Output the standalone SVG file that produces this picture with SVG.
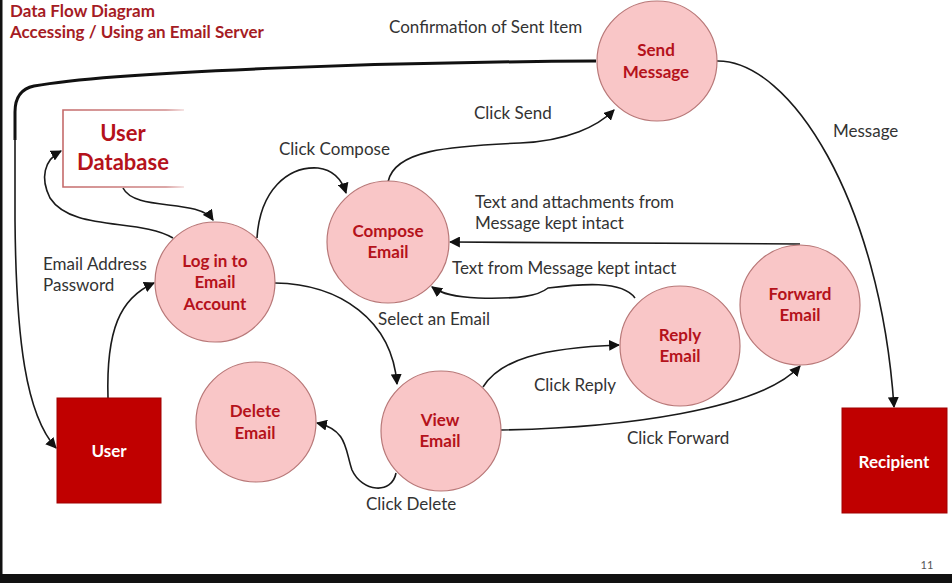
<svg xmlns="http://www.w3.org/2000/svg" width="952" height="583" viewBox="0 0 952 583">
  <defs>
    <marker id="arrow" viewBox="0 0 10 10" refX="9" refY="5" markerWidth="11" markerHeight="11" markerUnits="userSpaceOnUse" orient="auto">
      <path d="M0,0 L10,5 L0,10 z" fill="#111"/>
    </marker>
    <linearGradient id="dbEdge" x1="0" y1="0" x2="1" y2="0">
      <stop offset="0" stop-color="#c46a6a"/>
      <stop offset="0.85" stop-color="#d08a8a"/>
      <stop offset="1" stop-color="#f3dada"/>
    </linearGradient>
    <style>
      .proc { fill: #f9c6c7; stroke: #b87878; stroke-width: 1.2; }
      .ent { fill: #c00000; stroke: #a00000; stroke-width: 1; }
      .ptxt { font-family: Lato, "Liberation Sans", sans-serif; font-weight: bold; font-size: 17px; fill: #b5121b; text-anchor: middle; }
      .etxt { font-family: Lato, "Liberation Sans", sans-serif; font-weight: bold; font-size: 17px; fill: #ffffff; text-anchor: middle; }
      .lbl { font-family: Lato, "Liberation Sans", sans-serif; font-size: 17px; fill: #333333; }
      .title { font-family: Lato, "Liberation Sans", sans-serif; font-weight: bold; font-size: 17px; fill: #a51c24; }
      .flow { fill: none; stroke: #1a1a1a; stroke-width: 1.6; marker-end: url(#arrow); }
    </style>
  </defs>

  <rect x="0" y="0" width="952" height="583" fill="#ffffff"/>
  <!-- frame edges -->
  <rect x="0" y="0" width="2.5" height="583" fill="#111"/>
  <rect x="0" y="574" width="952" height="9" fill="#111"/>

  <!-- title -->
  <text class="title" x="10" y="17">Data Flow Diagram</text>
  <text class="title" x="10" y="38">Accessing / Using an Email Server</text>

  <!-- connectors -->
  <g id="connectors">
    <!-- Confirmation of Sent Item -->
    <path d="M596,61 C420,62 120,70 34,86 Q15,90 15,112 L15,140" fill="none" stroke="#111" stroke-width="3"/>
    <path class="flow" d="M15,138 L15,220 C16,340 26,415 56,448"/>
    <!-- Email Address / Password -->
    <path class="flow" d="M108,398 C106,330 120,298 154,283"/>
    <!-- Log in -> User Database -->
    <path class="flow" d="M173,238 C140,218 72,232 50,198 C40,178 44,160 61,151"/>
    <!-- User Database -> Log in -->
    <path class="flow" d="M123,188 C135,212 198,198 213,220"/>
    <!-- Click Compose -->
    <path class="flow" d="M257,238 C260,190 288,166 318,168 C334,170 342,180 346,193"/>
    <!-- Click Send -->
    <path class="flow" d="M388,182 C394,150 450,146 520,143 C568,141 598,126 614,110"/>
    <!-- Message -->
    <path class="flow" d="M717,61 C790,60 880,200 894,407"/>
    <!-- Text and attachments from Message kept intact -->
    <path class="flow" d="M800,244 L450,242"/>
    <!-- Text from Message kept intact -->
    <path class="flow" d="M635,298 C622,280 580,284 548,288 C538,296 520,299 478,298 C455,297 442,294 432,287"/>
    <!-- Select an Email -->
    <path class="flow" d="M275,283 C340,284 392,320 397,384"/>
    <!-- Click Reply -->
    <path class="flow" d="M483,387 C500,360 540,348 619,345"/>
    <!-- Click Forward -->
    <path class="flow" d="M501,430 C620,428 760,410 800,366"/>
    <!-- Click Delete -->
    <path class="flow" d="M396,473 C392,495 362,492 352,470 C345,450 348,430 317,423"/>
  </g>

  <!-- connector labels -->
  <g id="labels">
    <text class="lbl" x="389" y="33">Confirmation of Sent Item</text>
    <text class="lbl" x="474" y="119">Click Send</text>
    <text class="lbl" x="279" y="155">Click Compose</text>
    <text class="lbl" x="833" y="137">Message</text>
    <text class="lbl" x="475" y="208">Text and attachments from</text>
    <text class="lbl" x="475" y="229">Message kept intact</text>
    <text class="lbl" x="452" y="274">Text from Message kept intact</text>
    <text class="lbl" x="43" y="270">Email Address</text>
    <text class="lbl" x="43" y="291">Password</text>
    <text class="lbl" x="378" y="325">Select an Email</text>
    <text class="lbl" x="534" y="391">Click Reply</text>
    <text class="lbl" x="627" y="444">Click Forward</text>
    <text class="lbl" x="366" y="510">Click Delete</text>
  </g>

  <!-- data store -->
  <g id="user-database">
    <rect x="63" y="110" width="120" height="77" fill="#ffffff"/>
    <path d="M184,110 H63 V187 H184" fill="none" stroke="url(#dbEdge)" stroke-width="1.6"/>
    <text class="ptxt" x="123" y="141" style="font-size:22px">User</text>
    <text class="ptxt" x="123" y="170" style="font-size:22px">Database</text>
  </g>

  <!-- processes -->
  <g id="send-message">
    <circle class="proc" cx="657" cy="61" r="60"/>
    <text class="ptxt" x="656" y="56">Send</text>
    <text class="ptxt" x="656" y="78">Message</text>
  </g>
  <g id="compose-email">
    <circle class="proc" cx="388" cy="242" r="61"/>
    <text class="ptxt" x="388" y="237">Compose</text>
    <text class="ptxt" x="388" y="258">Email</text>
  </g>
  <g id="log-in">
    <circle class="proc" cx="215" cy="282" r="60"/>
    <text class="ptxt" x="215" y="267">Log in to</text>
    <text class="ptxt" x="215" y="288">Email</text>
    <text class="ptxt" x="215" y="310">Account</text>
  </g>
  <g id="delete-email">
    <circle class="proc" cx="256" cy="422" r="60"/>
    <text class="ptxt" x="255" y="417">Delete</text>
    <text class="ptxt" x="255" y="439">Email</text>
  </g>
  <g id="view-email">
    <circle class="proc" cx="441" cy="431" r="60"/>
    <text class="ptxt" x="440" y="426">View</text>
    <text class="ptxt" x="440" y="447">Email</text>
  </g>
  <g id="reply-email">
    <circle class="proc" cx="680" cy="346" r="60"/>
    <text class="ptxt" x="680" y="341">Reply</text>
    <text class="ptxt" x="680" y="362">Email</text>
  </g>
  <g id="forward-email">
    <circle class="proc" cx="800" cy="305" r="60"/>
    <text class="ptxt" x="800" y="300">Forward</text>
    <text class="ptxt" x="800" y="321">Email</text>
  </g>

  <!-- external entities -->
  <g id="user">
    <rect class="ent" x="57" y="398" width="104" height="105"/>
    <text class="etxt" x="109" y="457">User</text>
  </g>
  <g id="recipient">
    <rect class="ent" x="842" y="408" width="105" height="105"/>
    <text class="etxt" x="894" y="468">Recipient</text>
  </g>

  <text x="927" y="569" font-family="Lato, 'Liberation Sans', sans-serif" font-size="11" fill="#555" text-anchor="middle">11</text>
</svg>
